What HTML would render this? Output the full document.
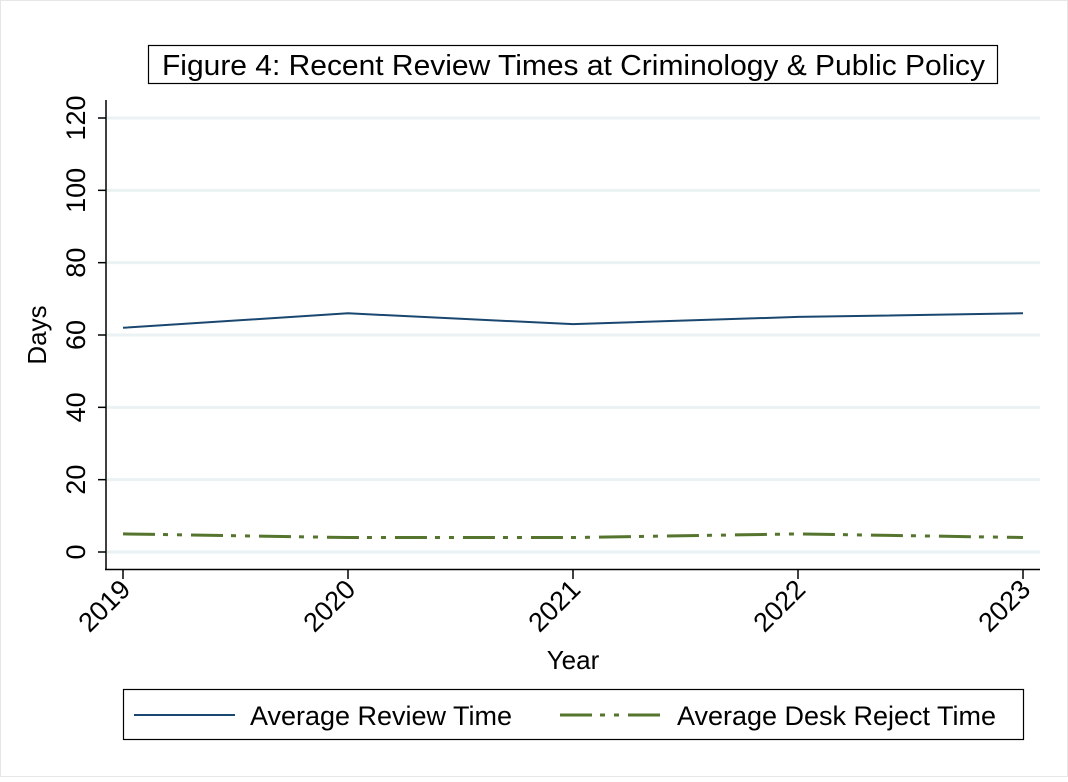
<!DOCTYPE html>
<html><head><meta charset="utf-8"><style>
body{margin:0;background:#fff;}
svg text{font-family:"Liberation Sans",Arial,sans-serif;fill:#000;}
</style></head><body>
<svg width="1068" height="777" viewBox="0 0 1068 777" xmlns="http://www.w3.org/2000/svg">
<rect x="0" y="0" width="1068" height="777" fill="#fff"/>
<rect x="0.5" y="0.5" width="1067" height="776" fill="none" stroke="#e6e6e6"/>
<g>
<rect x="148.5" y="45.5" width="849" height="38" fill="#fff" stroke="#000" stroke-width="1.2"/>
<text x="162" y="75" font-size="29" textLength="823" lengthAdjust="spacingAndGlyphs">Figure 4: Recent Review Times at Criminology &amp; Public Policy</text>
</g>
<g id="grid"></g>
<g id="yaxis"></g>
<g id="xaxis"></g>
<g id="series"></g>
<text x="46" y="335" font-size="26" text-anchor="middle" transform="rotate(-90 46 335)">Days</text>
<text x="573" y="669" font-size="26" text-anchor="middle">Year</text>
<g>
<rect x="123.5" y="689.5" width="900" height="50" fill="#fff" stroke="#000" stroke-width="1.2"/>
<g>
<line x1="134" y1="715" x2="235" y2="715" stroke="#1a476f" stroke-width="2"/>
<text x="250" y="725" font-size="27" textLength="262" lengthAdjust="spacingAndGlyphs">Average Review Time</text>
</g>
<g>
<line x1="560" y1="715" x2="661" y2="715" stroke="#55752f" stroke-width="3" stroke-dasharray="32 8 5 9 5 9"/>
<text x="677" y="725" font-size="27" textLength="319" lengthAdjust="spacingAndGlyphs">Average Desk Reject Time</text>
</g>
</g>
</svg>
<script>
const years=[2019,2020,2021,2022,2023];
const reviewTime=[62,66,63,65,66];
const deskRejectTime=[5,4,4,5,4];
const yTicks=[0,20,40,60,80,100,120];
const NS="http://www.w3.org/2000/svg";
function xs(v){return 123+(v-2019)*225;}
function ys(v){return 552-v*(434/120);}
function mk(tag,attrs,parent){const e=document.createElementNS(NS,tag);for(const k in attrs)e.setAttribute(k,attrs[k]);parent.appendChild(e);return e;}
const grid=document.getElementById('grid'),ya=document.getElementById('yaxis'),xa=document.getElementById('xaxis'),ser=document.getElementById('series');
yTicks.forEach(t=>{
  const g=mk('line',{x1:107,x2:1040,y1:ys(t),y2:ys(t),stroke:'#eaf2f3','stroke-width':3},grid);
  
  
  const tk=mk('line',{x1:98,x2:106,y1:ys(t),y2:ys(t),stroke:'#000','stroke-width':1.5},ya);
  
  
  const lx=85,ly=ys(t);
  const tx=mk('text',{x:lx,y:ly,'font-size':27,'text-anchor':'middle',transform:`rotate(-90 ${lx} ${ly})`},ya);
  tx.textContent=t;
  
  
});
const yl=mk('line',{x1:106,x2:106,y1:100,y2:570,stroke:'#000','stroke-width':1.5},ya);


const xl=mk('line',{x1:105,x2:1040,y1:569.5,y2:569.5,stroke:'#000','stroke-width':1.5},xa);


years.forEach(y=>{
  const tk=mk('line',{x1:xs(y),x2:xs(y),y1:570,y2:579,stroke:'#000','stroke-width':1.5},xa);
  
  
  const lx=xs(y)+9,ly=591;
  const tx=mk('text',{x:lx,y:ly,'font-size':27,'text-anchor':'end',transform:`rotate(-45 ${lx} ${ly})`},xa);
  tx.textContent=y;
  
  
});
const p1=mk('polyline',{points:years.map((y,i)=>xs(y)+','+ys(reviewTime[i])).join(' '),fill:'none',stroke:'#1a476f','stroke-width':2},ser);


const p2=mk('polyline',{points:years.map((y,i)=>xs(y)+','+ys(deskRejectTime[i])).join(' '),fill:'none',stroke:'#55752f','stroke-width':3,'stroke-dasharray':'32 8 5 9 5 9'},ser);


</script>
</body></html>
